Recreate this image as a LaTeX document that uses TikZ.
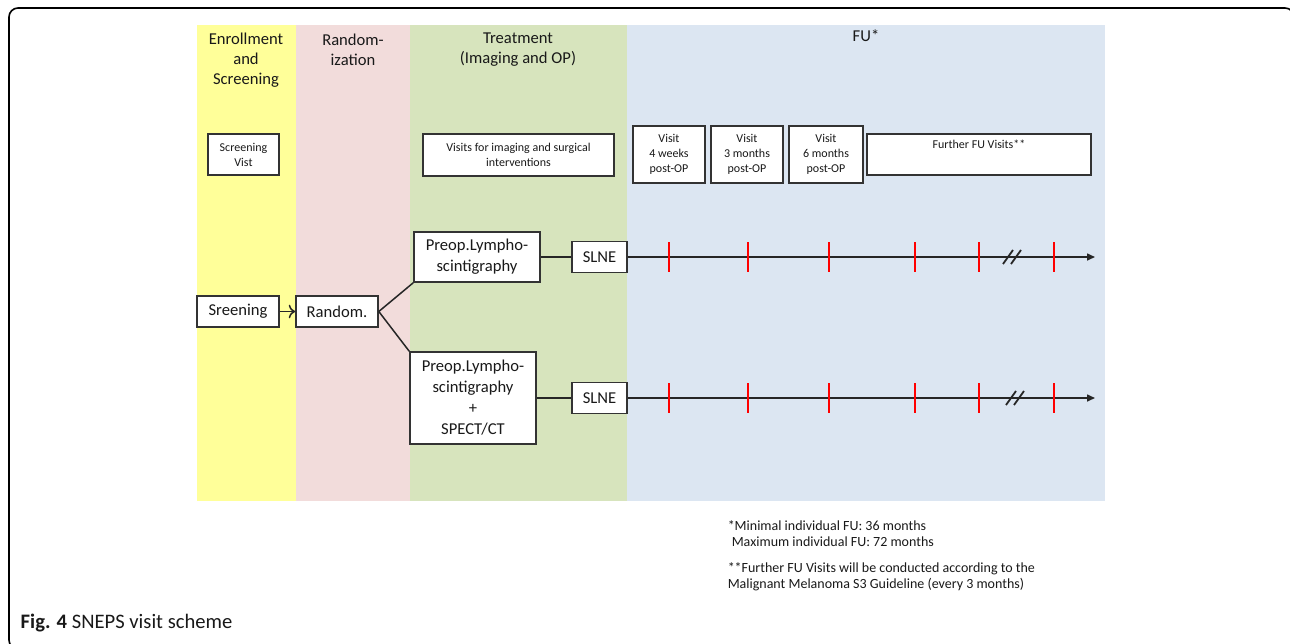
\documentclass[tikz,border=0pt]{standalone}
\usepackage{fontspec}
\setmainfont{Carlito}
\usetikzlibrary{arrows.meta}

\definecolor{enrollcol}{HTML}{FFFF99}
\definecolor{randomcol}{HTML}{F2DCDB}
\definecolor{treatcol}{HTML}{D7E4BD}
\definecolor{fucol}{HTML}{DCE6F2}
\definecolor{boxline}{HTML}{333333}

\begin{document}
\begin{tikzpicture}[x=0.5pt, y=-0.5pt, line width=0.75pt,
  head/.style={align=center, text=black!90, font=\fontsize{8.3}{10}\selectfont},
  flowbox/.style={draw=boxline, fill=white, line width=0.8pt, align=center, inner sep=1pt, text=black!90, font=\fontsize{8.3}{10.5}\selectfont},
  visitbox/.style={draw=boxline, fill=white, line width=0.8pt, align=center, inner sep=1pt, text=black!90, font=\fontsize{6}{7.5}\selectfont},
  fuline/.style={draw=black!85, -{Triangle[length=4pt, width=3.5pt]}},
  tickmark/.style={draw=red, line width=0.8pt},
  note/.style={anchor=north west, align=left, inner sep=0pt, text=black!90, font=\fontsize{7}{8}\selectfont}]

  \useasboundingbox (0,0) rectangle (1290,643);
  \clip (0,0) rectangle (1290,643);

  % frame
  \draw[line width=0.8pt, rounded corners=4.5pt] (9,8) rectangle (1294,649);

  % phases
  \fill[enrollcol] (197,25) rectangle (296,501);
  \fill[randomcol] (296,25) rectangle (410,501);
  \fill[treatcol]  (410,25) rectangle (627,501);
  \fill[fucol]     (627,25) rectangle (1105,501);

  \node[head] (enrollhead) at (246,60) {Enrollment\\and\\Screening};
  \node[head] (randhead) at (353,50) {Random-\\ization};
  \node[head] (treathead) at (518,50) {Treatment\\(Imaging and OP)};
  \node[head] (fuhead) at (866,36) {FU*};

  % visits
  \node[visitbox, minimum width=35.5pt, minimum height=20.5pt] (screenvisit) at (243.5,154.5) {Screening\\Vist};
  \node[visitbox, minimum width=95.5pt, minimum height=21pt] (imagingvisit) at (518.5,155) {Visits for imaging and surgical\\interventions};
  \node[visitbox, minimum width=36pt, minimum height=28.5pt] (visitfour) at (669,154.5) {Visit\\4 weeks\\post-OP};
  \node[visitbox, minimum width=36pt, minimum height=28.5pt] (visitthree) at (747,154.5) {Visit\\3 months\\post-OP};
  \node[visitbox, minimum width=37pt, minimum height=28.5pt] (visitsix) at (826,154.5) {Visit\\6 months\\post-OP};
  \node[visitbox, minimum width=112pt, minimum height=20.5pt,
    label={[visitbox, draw=none, fill=none, anchor=north, yshift=-2pt]north:Further FU Visits**}] (furthervisit) at (979,154.5) {};

  % flow
  \node[flowbox, minimum width=41pt, minimum height=15.5pt] (screening) at (238,311.5) {Sreening};
  \node[flowbox, minimum width=41pt, minimum height=15.5pt] (random) at (337,311.5) {Random.};
  \node[flowbox, minimum width=63pt, minimum height=25pt] (lymphoup) at (477,257) {Preop.Lympho-\\scintigraphy};
  \node[flowbox, minimum width=63pt, minimum height=46pt] (lymphodown) at (473,398) {Preop.Lympho-\\scintigraphy\\+\\SPECT/CT};
  \node[flowbox, minimum width=27.5pt, minimum height=15.5pt] (slneup) at (599.5,257) {SLNE};
  \node[flowbox, minimum width=27.5pt, minimum height=15.5pt] (slnedown) at (599.5,398) {SLNE};

  \draw[->, draw=black!85] (screening) -- (random);
  \draw[draw=black!85] (random.east) -- (lymphoup.south west);
  \draw[draw=black!85] (random.east) -- (lymphodown.north west);
  \draw[draw=black!85] (lymphoup) -- (slneup);
  \draw[draw=black!85] (lymphodown) -- (slnedown);

  % follow-up time lines
  \coordinate (upend) at (1095,257);
  \coordinate (downend) at (1095,398);
  \draw[fuline] (slneup) -- (upend);
  \draw[fuline] (slnedown) -- (downend);

  \foreach \row/\brk in {257/1012, 398/1015} {
    \foreach \tx in {669, 748, 829, 915, 979, 1054}
      \draw[tickmark] (\tx,\row-15) -- (\tx,\row+15);
    \foreach \dx in {-4, 4}
      \draw[draw=black!85, line width=0.9pt] (\brk+\dx-5,\row+7) -- (\brk+\dx+5,\row-7);
  }

  % notes
  \node[note] (noteone) at (727,520) {*Minimal individual FU: 36 months\\\hspace*{2pt}Maximum individual FU: 72 months};
  \node[note] (notetwo) at (727,562) {**Further FU Visits will be conducted according to the\\Malignant Melanoma S3 Guideline (every 3 months)};

  \node[anchor=base west, inner sep=0pt, text=black!90, font=\fontsize{10.3}{12}\selectfont] (caption) at (20,628) {\textbf{Fig. 4} SNEPS visit scheme};

\end{tikzpicture}
\end{document}
